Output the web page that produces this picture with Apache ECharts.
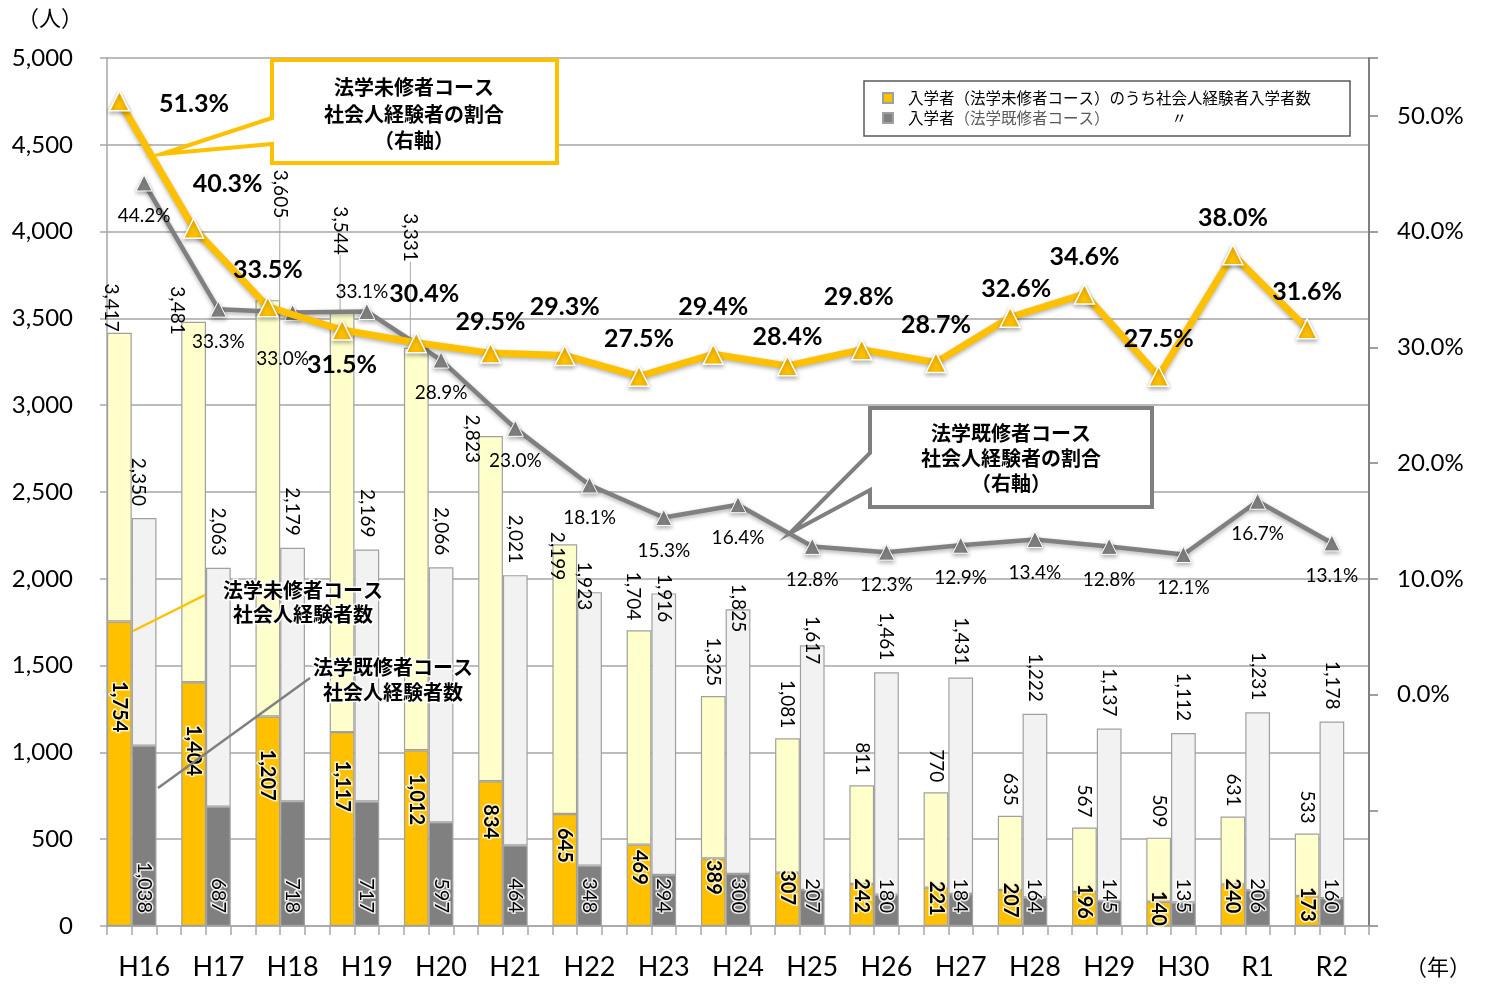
<!DOCTYPE html>
<html><head><meta charset="utf-8">
<script src="https://cdn.jsdelivr.net/npm/echarts@6/dist/echarts.min.js"></script>
<style>html,body{margin:0;padding:0;background:#fff}#c{width:1485px;height:984px}</style>
</head><body><div id="c"></div>
<script>
// ---- data ----
const years = ['H16','H17','H18','H19','H20','H21','H22','H23','H24','H25','H26','H27','H28','H29','H30','R1','R2'];
const misyuTotal  = [3417,3481,3605,3544,3331,2823,2199,1704,1325,1081,811,770,635,567,509,631,533];
const misyuShakai = [1754,1404,1207,1117,1012,834,645,469,389,307,242,221,207,196,140,240,173];
const kisyuTotal  = [2350,2063,2179,2169,2066,2021,1923,1916,1825,1617,1461,1431,1222,1137,1112,1231,1178];
const kisyuShakai = [1038,687,718,717,597,464,348,294,300,207,180,184,164,145,135,206,160];
const misyuRatio  = [51.3,40.3,33.5,31.5,30.4,29.5,29.3,27.5,29.4,28.4,29.8,28.7,32.6,34.6,27.5,38.0,31.6];
const kisyuRatio  = [44.2,33.3,33.0,33.1,28.9,23.0,18.1,15.3,16.4,12.8,12.3,12.9,13.4,12.8,12.1,16.7,13.1];

const LEG1 = '入学者（法学未修者コース）のうち社会人経験者入学者数';
const LEG2 = '入学者（法学既修者コース）　　　　〃';

// ---- style tweaks (label placement, screen px) ----
const miTotalTweak = {0:[-8,9],1:[-16,23],2:[12,-72,1],3:[-2,-46,1],4:[-6,-76,1],5:[-18,37],6:[-8,46],7:[-6,0]};
const kiTotalTweak = {0:[-6,0],6:[-5,30],7:[0,41],8:[0,35],9:[0,31]};
const miRatioLabel = {0:{position:'right',distance:29,offset:[0,3]},1:{offset:[34,-7]},3:{position:'bottom',distance:12},
  4:{offset:[8,-12]},5:{offset:[0,6]},6:{offset:[0,-11]},8:{offset:[0,-10]},9:{offset:[0,8]},10:{offset:[-3,-15]},12:{offset:[6,9]}};
const kiRatioLabel = {2:{offset:[-10,13]},3:{position:'top',distance:2,offset:[-5,0]}};

const FONT = 'Lato, "Noto Sans CJK JP", sans-serif';
const JP = '"Noto Sans CJK JP", sans-serif';
const fmt = n => Number(n).toLocaleString('en-US');

const miRest = misyuTotal.map((t,i) => t - misyuShakai[i]);
const kiRest = kisyuTotal.map((t,i) => t - kisyuShakai[i]);
const miRestData = miRest.map((v,i) => (miTotalTweak[i] && miTotalTweak[i][2]) ?
  {value:v, labelLine:{show:true, lineStyle:{color:'#A6A6A6', width:1}}} : v);

const slots = [];
years.forEach(y => { slots.push(y+'-a', y+'-b', y+'-c'); });
function slotData(vals, slot, tweaks) {
  const arr = new Array(years.length*3).fill(null);
  vals.forEach((v,i) => { arr[i*3+slot] = tweaks[i] ? {value:v, label:tweaks[i]} : v; });
  return arr;
}
function totalLayout(tw) {
  return function (p) {
    const t = tw[p.dataIndex];
    if (!t) return {};
    return {dx: t[1], dy: -t[0]};
  };
}
const barBorder = {borderColor:'#A0A0A0', borderWidth:1.2};

const chart = echarts.init(document.getElementById('c'), null, {width:1485, height:984});
chart.setOption({
  animation:false,
  backgroundColor:'#fff',
  textStyle:{fontFamily:FONT},
  grid:{left:107, right:116, top:58, bottom:58, containLabel:false, outerBoundsMode:'none'},
  legend:{
    left:864, top:81, orient:'vertical', data:[LEG1, LEG2],
    padding:[9,39,10,18], itemGap:4, itemWidth:10, itemHeight:10,
    borderColor:'#595959', borderWidth:1.5, backgroundColor:'#fff',
    selectedMode:false, icon:'rect',
    textStyle:{fontFamily:JP, fontSize:15.5, lineHeight:16, color:'#000', padding:[0,0,0,10],
      rich:{a:{fontFamily:JP, fontSize:15.5, color:'#000'}, b:{fontFamily:JP, fontSize:15.5, color:'#595959'}}},
    formatter: n => n === LEG2 ? '{a|入学者}{b|（法学既修者コース）}{a|　　　　〃}' : n
  },
  xAxis:[
    {type:'category', data:years, gridIndex:0, position:'bottom',
      axisLine:{show:true, onZero:false, lineStyle:{color:'#A6A6A6', width:1.5}},
      axisTick:{show:false},
      axisLabel:{interval:0, fontSize:27, color:'#000', margin:28, fontFamily:FONT}},
    {type:'category', data:slots, gridIndex:0, position:'bottom',
      axisLine:{show:false, onZero:false},
      axisTick:{show:true, interval:0, length:9, lineStyle:{color:'#A6A6A6', width:1.5}},
      axisLabel:{show:false, interval:0}, splitLine:{show:false}}
  ],
  yAxis:[
    {type:'value', min:0, max:5000, interval:500,
      axisLine:{show:true, onZero:false, lineStyle:{color:'#A6A6A6', width:1.5}},
      axisTick:{show:true, length:7, lineStyle:{color:'#A6A6A6', width:1.5}},
      axisLabel:{fontSize:24, color:'#000', margin:34, formatter: v => fmt(v)},
      splitLine:{show:true, lineStyle:{color:'#A6A6A6', width:1.5}}},
    {type:'value', position:'right', min:-20, max:55, interval:10,
      axisLine:{show:true, onZero:false, lineStyle:{color:'#808080', width:2}},
      axisTick:{show:true, length:9, lineStyle:{color:'#808080', width:1.5}},
      axisLabel:{fontSize:24, color:'#000', margin:28,
        formatter: v => (v >= 0 && v <= 50 && v % 10 === 0) ? v.toFixed(1) + '%' : ''},
      splitLine:{show:false}}
  ],
  series:[
    {name:LEG1, type:'bar', stack:'mi', data:misyuShakai, barGap:'0%', barCategoryGap:'0%',
      itemStyle:Object.assign({color:'#FFC000'}, barBorder),
      label:{show:true, rotate:-90, position:['50%','28%'], align:'center', verticalAlign:'middle',
        fontSize:20, fontWeight:'bold', color:'#000', textBorderColor:'#FFF3C4', textBorderWidth:3,
        formatter: p => fmt(p.value)}},
    {name:'未修入学者', type:'bar', stack:'mi', data:miRestData, barGap:'0%', barCategoryGap:'0%',
      itemStyle:Object.assign({color:'#FFFFCC'}, barBorder),
      label:{show:true, rotate:-90, position:'top', distance:10, align:'right', verticalAlign:'middle',
        fontSize:19, color:'#000', formatter: p => fmt(misyuTotal[p.dataIndex])},
      labelLine:{show:false},
      labelLayout: totalLayout(miTotalTweak)},
    {name:LEG2, type:'bar', stack:'ki', data:kisyuShakai, barGap:'0%', barCategoryGap:'0%',
      itemStyle:Object.assign({color:'#808080'}, barBorder),
      label:{show:true, rotate:-90, position:'insideBottom', distance:13, align:'right', verticalAlign:'middle',
        fontSize:20, color:'#000', textBorderColor:'rgba(255,255,255,0.85)', textBorderWidth:3,
        formatter: p => fmt(p.value)}},
    {name:'既修入学者', type:'bar', stack:'ki', data:kiRest, barGap:'0%', barCategoryGap:'0%',
      itemStyle:Object.assign({color:'#F2F2F2'}, barBorder),
      label:{show:true, rotate:-90, position:'top', distance:12, align:'right', verticalAlign:'middle',
        fontSize:19, color:'#000', formatter: p => fmt(kisyuTotal[p.dataIndex])},
      labelLayout: totalLayout(kiTotalTweak)},
    {name:'_gap', type:'bar', data:years.map(() => '-'), barGap:'0%', barCategoryGap:'0%', silent:true},
    {name:'既修割合', type:'line', xAxisIndex:1, yAxisIndex:1, data:slotData(kisyuRatio,1,kiRatioLabel),
      connectNulls:true, showAllSymbol:true, symbol:'triangle', symbolSize:16, z:5,
      lineStyle:{color:'#808080', width:4.5, shadowColor:'rgba(0,0,0,0.3)', shadowBlur:4, shadowOffsetY:2},
      itemStyle:{color:'#808080', borderColor:'#fff', borderWidth:1, shadowColor:'rgba(0,0,0,0.3)', shadowBlur:4, shadowOffsetY:2},
      label:{show:true, position:'bottom', distance:15, fontSize:19, color:'#000',
        formatter: p => Number(p.value).toFixed(1) + '%'}},
    {name:'未修割合', type:'line', xAxisIndex:1, yAxisIndex:1, data:slotData(misyuRatio,0,miRatioLabel),
      connectNulls:true, showAllSymbol:true, symbol:'triangle', symbolSize:20, z:6,
      lineStyle:{color:'#FFC000', width:7, shadowColor:'rgba(0,0,0,0.3)', shadowBlur:4, shadowOffsetY:2},
      itemStyle:{color:'#FFC000', borderColor:'#fff', borderWidth:1.5, shadowColor:'rgba(0,0,0,0.3)', shadowBlur:4, shadowOffsetY:2},
      label:{show:true, position:'top', distance:14, fontSize:25, fontWeight:'bold', color:'#000',
        formatter: p => Number(p.value).toFixed(1) + '%'}}
  ],
  graphic:[
    {type:'text', left:17, top:7, z:100, style:{text:'（人）', font:'22px "Noto Sans CJK JP"', fill:'#000'}},
    {type:'text', left:1405, top:956, z:100, style:{text:'（年）', font:'22px "Noto Sans CJK JP"', fill:'#000'}},
    {type:'polygon', z:100, shape:{points:[[272,60],[557,60],[557,163],[272,163],[272,144],[162,154],[272,118]]},
      style:{fill:'#fff', stroke:'#FFC000', lineWidth:4, lineJoin:'miter'}},
    {type:'text', x:414, y:114, z:101, style:{text:'法学未修者コース\n社会人経験者の割合\n（右軸）',
      font:'bold 20px "Noto Sans CJK JP"', fill:'#000', align:'center', verticalAlign:'middle', lineHeight:26.5}},
    {type:'polygon', z:100, shape:{points:[[870,408],[1152,408],[1152,507],[870,507],[870,490],[790,533],[870,453]]},
      style:{fill:'#fff', stroke:'#7F7F7F', lineWidth:4, lineJoin:'miter'}},
    {type:'text', x:1011, y:458, z:101, style:{text:'法学既修者コース\n社会人経験者の割合\n（右軸）',
      font:'bold 20px "Noto Sans CJK JP"', fill:'#000', align:'center', verticalAlign:'middle', lineHeight:25}},
    {type:'line', z:100, shape:{x1:205, y1:595, x2:133, y2:631}, style:{stroke:'#FFC000', lineWidth:2.5}},
    {type:'text', x:303, y:602, z:101, style:{text:'法学未修者コース\n社会人経験者数',
      font:'bold 20px "Noto Sans CJK JP"', fill:'#000', align:'center', verticalAlign:'middle', lineHeight:24,
      stroke:'rgba(255,255,255,0.9)', lineWidth:3}},
    {type:'line', z:100, shape:{x1:310, y1:678, x2:158, y2:788}, style:{stroke:'#808080', lineWidth:2.5}},
    {type:'text', x:393, y:679.5, z:101, style:{text:'法学既修者コース\n社会人経験者数',
      font:'bold 20px "Noto Sans CJK JP"', fill:'#000', align:'center', verticalAlign:'middle', lineHeight:25,
      stroke:'rgba(255,255,255,0.9)', lineWidth:3}}
  ]
});
</script>
</body></html>
